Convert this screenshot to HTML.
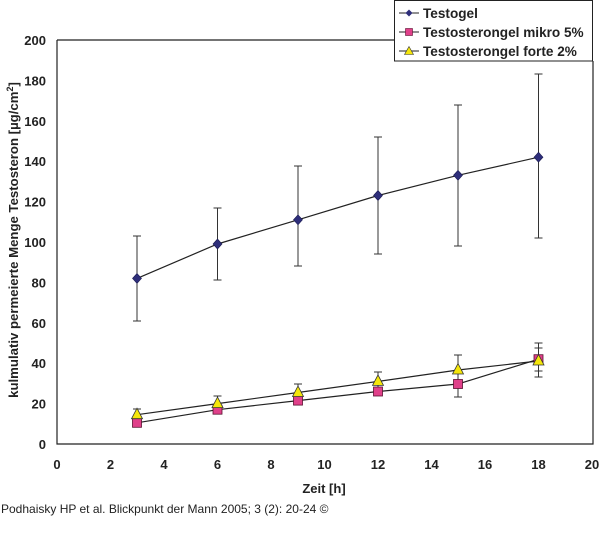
<!DOCTYPE html>
<html><head><meta charset="utf-8"><style>body{margin:0;background:#fff}svg{display:block}</style></head><body>
<svg width="600" height="558" viewBox="0 0 600 558" font-family="Liberation Sans, Arial, sans-serif">
<rect width="600" height="558" fill="#fff"/>
<path d="M57,40 H394 M593,61 V444 H57 V40" fill="none" stroke="#222" stroke-width="1.2"/>
<g font-size="13" font-weight="bold" fill="#222" text-anchor="end">
<text x="46" y="449">0</text><text x="46" y="408.6">20</text><text x="46" y="368.2">40</text><text x="46" y="327.8">60</text><text x="46" y="287.4">80</text><text x="46" y="247">100</text><text x="46" y="206.6">120</text><text x="46" y="166.2">140</text><text x="46" y="125.8">160</text><text x="46" y="85.4">180</text><text x="46" y="45">200</text>
</g>
<g font-size="13" font-weight="bold" fill="#222" text-anchor="middle">
<text x="57" y="469">0</text><text x="110.5" y="469">2</text><text x="164" y="469">4</text><text x="217.5" y="469">6</text><text x="271" y="469">8</text><text x="324.5" y="469">10</text><text x="378" y="469">12</text><text x="431.5" y="469">14</text><text x="485" y="469">16</text><text x="538.5" y="469">18</text><text x="592" y="469">20</text>
<text x="324" y="493">Zeit [h]</text>
</g>
<text transform="translate(18,240) rotate(-90)" font-size="13.2" font-weight="bold" fill="#222" text-anchor="middle">kulmulativ permeierte Menge Testosteron [µg/cm<tspan dy="-5" font-size="9">2</tspan><tspan dy="5">]</tspan></text>
<g stroke="#333" stroke-width="1">
<path d="M137,236V321M133,236h8M133,321h8 M217.5,208V280M213.5,208h8M213.5,280h8 M298,166V266M294,166h8M294,266h8 M378,137V254M374,137h8M374,254h8 M458,105V246M454,105h8M454,246h8 M538.5,74V238M534.5,74h8M534.5,238h8"/>
<path d="M137,409V421M133,409h8M217.5,396V410M213.5,396h8M298,384V401M294,384h8M378,372V393M374,372h8M374,393h8M458,355V397M454,355h8M454,397h8M538.5,343V377M534.5,343h8M534.5,377h8M534.5,348h8M534.5,371h8"/>
</g>
<g fill="none" stroke="#222" stroke-width="1.2">
<polyline points="137,278.4 217.5,244 298,219.8 378,195.5 458,175.3 538.5,157.2"/>
<polyline points="137,422.8 217.5,409.7 298,400.6 378,391.5 458,384 538.5,359.2"/>
<polyline points="137,414.7 217.5,403.6 298,392.5 378,381.4 458,370 538.5,361"/>
</g>
<g fill="#2e2e7a" stroke="#1a1a50" stroke-width="0.6">
<path d="M137,273.4l4.5,5l-4.5,5l-4.5,-5z"/><path d="M217.5,239l4.5,5l-4.5,5l-4.5,-5z"/><path d="M298,214.8l4.5,5l-4.5,5l-4.5,-5z"/><path d="M378,190.5l4.5,5l-4.5,5l-4.5,-5z"/><path d="M458,170.3l4.5,5l-4.5,5l-4.5,-5z"/><path d="M538.5,152.2l4.5,5l-4.5,5l-4.5,-5z"/>
</g>
<g fill="#e0408a" stroke="#5a1030" stroke-width="0.8">
<rect x="132.5" y="418.3" width="9" height="9"/><rect x="213" y="405.2" width="9" height="9"/><rect x="293.5" y="396.1" width="9" height="9"/><rect x="373.5" y="387" width="9" height="9"/><rect x="453.5" y="379.5" width="9" height="9"/><rect x="534" y="354.7" width="9" height="9"/>
</g>
<g fill="#f5e60a" stroke="#333" stroke-width="0.8">
<path d="M137,408.2l5.5,10.5h-11z"/><path d="M217.5,397.1l5.5,10.5h-11z"/><path d="M298,386l5.5,10.5h-11z"/><path d="M378,374.9l5.5,10.5h-11z"/><path d="M458,363.5l5.5,10.5h-11z"/><path d="M538.5,354.5l5.5,10.5h-11z"/>
</g>
<rect x="394.5" y="0.5" width="198" height="60.5" fill="#fff" stroke="#222" stroke-width="1"/>
<g stroke="#222" stroke-width="1"><path d="M399,13h20M399,32h20M399,51h20"/></g>
<path d="M409,9.5l3.5,3.5l-3.5,3.5l-3.5,-3.5z" fill="#2e2e7a"/>
<rect x="405.5" y="28.5" width="7" height="7" fill="#e0408a" stroke="#5a1030" stroke-width="0.6"/>
<path d="M409,46.5l4.5,8h-9z" fill="#f5e60a" stroke="#333" stroke-width="0.6"/>
<g font-size="13.6" font-weight="bold" fill="#222">
<text x="423" y="18">Testogel</text><text x="423" y="37">Testosterongel mikro 5%</text><text x="423" y="56">Testosterongel forte 2%</text>
</g>
<text x="1" y="513" font-size="12" fill="#222">Podhaisky HP et al. Blickpunkt der Mann 2005; 3 (2): 20-24 ©</text>
</svg>
</body></html>
